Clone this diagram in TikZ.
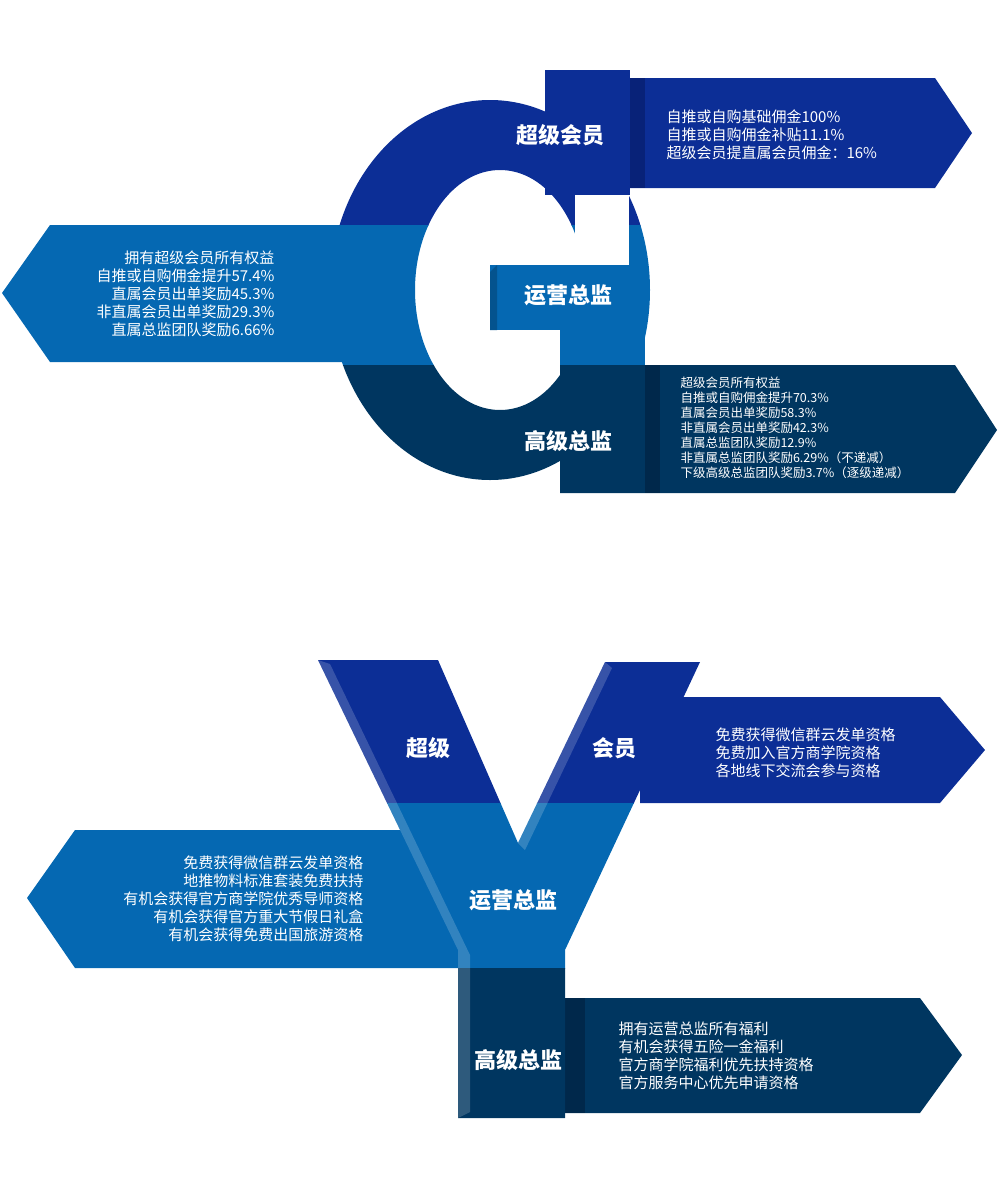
\documentclass[tikz,border=0pt]{standalone}
\usepackage{fontspec}
\setmainfont{Noto Sans CJK SC}
\definecolor{cA}{RGB}{12,46,150}
\definecolor{cB}{RGB}{5,104,178}
\definecolor{cC}{RGB}{0,54,96}
\definecolor{cAd}{RGB}{8,34,120}
\definecolor{cCd}{RGB}{0,40,75}
\tikzset{lab/.style={text=white,font=\bfseries\fontsize{22}{26}\selectfont},
 txt/.style={text=white,font=\fontsize{15}{18}\selectfont,align=left},
 txtr/.style={text=white,font=\fontsize{15}{18}\selectfont,align=right},
 txts/.style={text=white,font=\fontsize{12.5}{15}\selectfont,align=left}}
\newcommand{\Gshape}[1]{%
 \fill[#1,even odd rule] (490,290) ellipse [x radius=160,y radius=190] (500,290) ellipse [x radius=85,y radius=120];
 \fill[#1] (545,70) rectangle (630,195);
 \fill[#1] (490,265) rectangle (645,330);
 \fill[#1] (560,330) rectangle (645,493);}
\newcommand{\Yshape}[1]{%
 \fill[#1] (318,660) -- (438,660) -- (518,843) -- (605,662) -- (700,662) -- (565,950) -- (565,1118) -- (458,1118) -- (458,950) -- cycle;}
\begin{document}
\begin{tikzpicture}[x=1pt,y=-1pt]
\useasboundingbox (0,0) rectangle (1000,1179);
% G arrows
\fill[cA] (630,78) -- (935,78) -- (972,133) -- (935,188) -- (630,188) -- cycle;
\fill[cAd] (630,78) rectangle (645,188);
\fill[cB] (345,225) -- (50,225) -- (2,293) -- (50,362) -- (345,362) -- cycle;
\fill[cC] (560,365) -- (955,365) -- (997,430) -- (955,493) -- (560,493) -- cycle;
\fill[cCd] (645,365) rectangle (660,493);
% G
\begin{scope}\clip (0,0) rectangle (1000,225); \Gshape{cA} \end{scope}
\begin{scope}\clip (0,225) rectangle (1000,365); \Gshape{cB} \end{scope}
\begin{scope}\clip (0,365) rectangle (1000,500); \Gshape{cC} \end{scope}
\fill[white] (575,195) rectangle (629,265);
\fill[cB] (490,265) rectangle (645,330);
\fill[cB!80!black] (490,272) -- (497,265) -- (497,330) -- (490,330) -- cycle;
\fill[cB] (560,330) rectangle (645,365);
\node[lab] (g1) at (560,135) {超级会员};
\node[lab] (g2) at (568,295) {运营总监};
\node[lab] (g3) at (568,441) {高级总监};
\node[txt,anchor=west] (t1) at (663,135) {自推或自购基础佣金100\%\\自推或自购佣金补贴11.1\%\\超级会员提直属会员佣金：16\%};
\node[txtr,anchor=east] (t2) at (278,294) {拥有超级会员所有权益\\自推或自购佣金提升57.4\%\\直属会员出单奖励45.3\%\\非直属会员出单奖励29.3\%\\直属总监团队奖励6.66\%};
\node[txts,anchor=west] (t3) at (677,428) {超级会员所有权益\\自推或自购佣金提升70.3\%\\直属会员出单奖励58.3\%\\非直属会员出单奖励42.3\%\\直属总监团队奖励12.9\%\\非直属总监团队奖励6.29\%（不递减）\\下级高级总监团队奖励3.7\%（逐级递减）};
% Y arrows
\fill[cA] (640,697) -- (940,697) -- (985,750) -- (940,803) -- (640,803) -- cycle;
\fill[cB] (460,830) -- (75,830) -- (27,898) -- (75,968) -- (460,968) -- cycle;
\fill[cC] (565,998) -- (920,998) -- (962,1055) -- (920,1113) -- (565,1113) -- cycle;
\fill[cCd] (565,998) rectangle (585,1113);
% Y
\begin{scope}\clip (0,600) rectangle (1000,803); \Yshape{cA} \end{scope}
\begin{scope}\clip (0,803) rectangle (1000,968); \Yshape{cB} \end{scope}
\begin{scope}\clip (0,968) rectangle (1000,1130); \Yshape{cC} \end{scope}
\fill[white,opacity=0.18] (318,660) -- (330,664) -- (470,955) -- (470,1112) -- (458,1118) -- (458,950) -- cycle;
\fill[white,opacity=0.18] (605,662) -- (612,668) -- (525,850) -- (518,843) -- cycle;
\node[lab] (y1) at (428,748) {超级};
\node[lab] (y2) at (614,748) {会员};
\node[lab] (y3) at (513,900) {运营总监};
\node[lab] (y4) at (518,1060) {高级总监};
\node[txt,anchor=west] (u1) at (712,753) {免费获得微信群云发单资格\\免费加入官方商学院资格\\各地线下交流会参与资格};
\node[txtr,anchor=east] (u2) at (367,899) {免费获得微信群云发单资格\\地推物料标准套装免费扶持\\有机会获得官方商学院优秀导师资格\\有机会获得官方重大节假日礼盒\\有机会获得免费出国旅游资格};
\node[txt,anchor=west] (u3) at (615,1056) {拥有运营总监所有福利\\有机会获得五险一金福利\\官方商学院福利优先扶持资格\\官方服务中心优先申请资格};
\end{tikzpicture}
\end{document}
